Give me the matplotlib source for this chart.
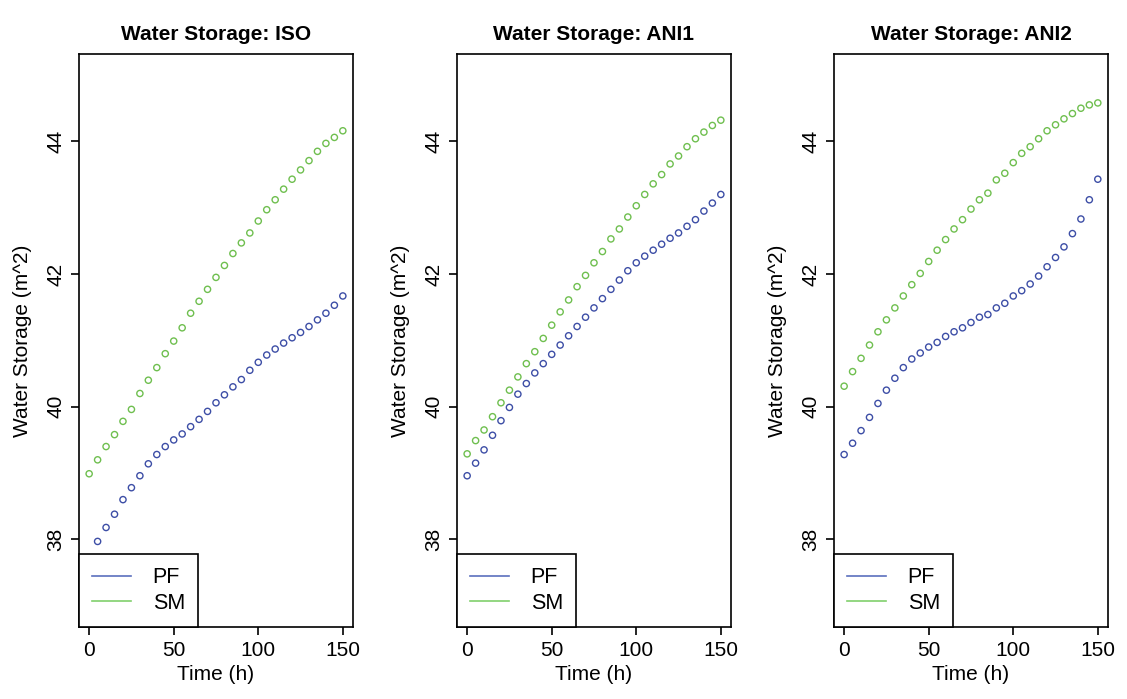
import matplotlib
matplotlib.use("Agg")
import matplotlib.pyplot as plt
from matplotlib.lines import Line2D
import numpy as np

plt.rcParams['font.family'] = ['Liberation Sans', 'DejaVu Sans']

# time steps, every 5 h
time_h = list(range(0, 155, 5))

iso_pf = [37.72, 37.97, 38.18, 38.38, 38.60, 38.78, 38.96, 39.14, 39.28, 39.40, 39.50,
          39.59, 39.70, 39.81, 39.93, 40.06, 40.18, 40.30, 40.41, 40.55, 40.67,
          40.78, 40.87, 40.96, 41.04, 41.12, 41.21, 41.31, 41.41, 41.53, 41.67]
iso_sm = [38.99, 39.20, 39.40, 39.58, 39.78, 39.96, 40.20, 40.40, 40.59, 40.80, 40.99,
          41.19, 41.41, 41.59, 41.77, 41.95, 42.13, 42.31, 42.47, 42.62, 42.80,
          42.97, 43.12, 43.28, 43.43, 43.57, 43.71, 43.85, 43.97, 44.06, 44.16]

ani1_pf = [38.96, 39.15, 39.35, 39.57, 39.79, 39.99, 40.19, 40.35, 40.51, 40.65, 40.79,
           40.93, 41.07, 41.21, 41.35, 41.49, 41.63, 41.77, 41.91, 42.05, 42.17,
           42.27, 42.36, 42.45, 42.54, 42.62, 42.72, 42.82, 42.95, 43.07, 43.20]
ani1_sm = [39.29, 39.49, 39.65, 39.85, 40.06, 40.25, 40.45, 40.65, 40.83, 41.03, 41.23,
           41.43, 41.61, 41.81, 41.98, 42.17, 42.34, 42.53, 42.68, 42.86, 43.03,
           43.20, 43.36, 43.50, 43.66, 43.78, 43.92, 44.04, 44.14, 44.24, 44.32]

ani2_pf = [39.28, 39.45, 39.64, 39.84, 40.05, 40.25, 40.43, 40.59, 40.72, 40.81, 40.90,
           40.97, 41.06, 41.13, 41.19, 41.27, 41.35, 41.39, 41.49, 41.56, 41.67,
           41.75, 41.85, 41.97, 42.11, 42.25, 42.41, 42.61, 42.83, 43.12, 43.43]
ani2_sm = [40.31, 40.53, 40.73, 40.93, 41.13, 41.31, 41.49, 41.67, 41.84, 42.01, 42.19,
           42.36, 42.52, 42.68, 42.82, 42.98, 43.12, 43.22, 43.42, 43.52, 43.68,
           43.82, 43.92, 44.04, 44.16, 44.25, 44.34, 44.42, 44.50, 44.55, 44.58]

titles = ["Water Storage: ISO", "Water Storage: ANI1", "Water Storage: ANI2"]
pf_series = [iso_pf, ani1_pf, ani2_pf]
sm_series = [iso_sm, ani1_sm, ani2_sm]

blue = "#3d4ea6"
green = "#6fbf4f"

fig = plt.figure(figsize=(11.27, 6.99), dpi=100)
lefts = [0.0701, 0.4055, 0.740]

for i in range(3):
    ax = fig.add_axes([lefts[i], 0.103, 0.2431, 0.820])
    ax.scatter(time_h, pf_series[i], s=20, facecolors="none", edgecolors=blue, linewidths=1.0, zorder=3)
    ax.scatter(time_h, sm_series[i], s=20, facecolors="none", edgecolors=green, linewidths=1.0, zorder=3)
    ax.set_xlim(-6, 156)
    ax.set_ylim(36.68, 45.32)
    ax.set_xticks([0, 50, 100, 150])
    ax.set_yticks([38, 40, 42, 44])
    ax.tick_params(direction="out", length=6, width=1.2, labelsize=15, pad=4)
    for lab in ax.get_yticklabels():
        lab.set_rotation(90)
        lab.set_va("center")
    for sp in ax.spines.values():
        sp.set_linewidth(1.2)
    ax.set_title(titles[i], fontsize=15, fontweight="bold", pad=10)
    ax.set_xlabel("Time (h)", fontsize=15, labelpad=4)
    ax.set_ylabel("Water Storage (m^2)", fontsize=15, labelpad=10)
    handles = [Line2D([], [], color="#5b6fbd", lw=1.2), Line2D([], [], color="#80cf6c", lw=1.2)]
    leg = ax.legend(handles, ["PF", "SM"], loc="lower left", borderaxespad=0, fancybox=False,
                    edgecolor="black", fontsize=15.5, handlelength=1.8, handletextpad=1.0,
                    borderpad=0.62, labelspacing=0.2, framealpha=1)
    leg.get_frame().set_linewidth(1.2)
    leg.set_zorder(5)

fig.savefig("out.png", dpi=100)
